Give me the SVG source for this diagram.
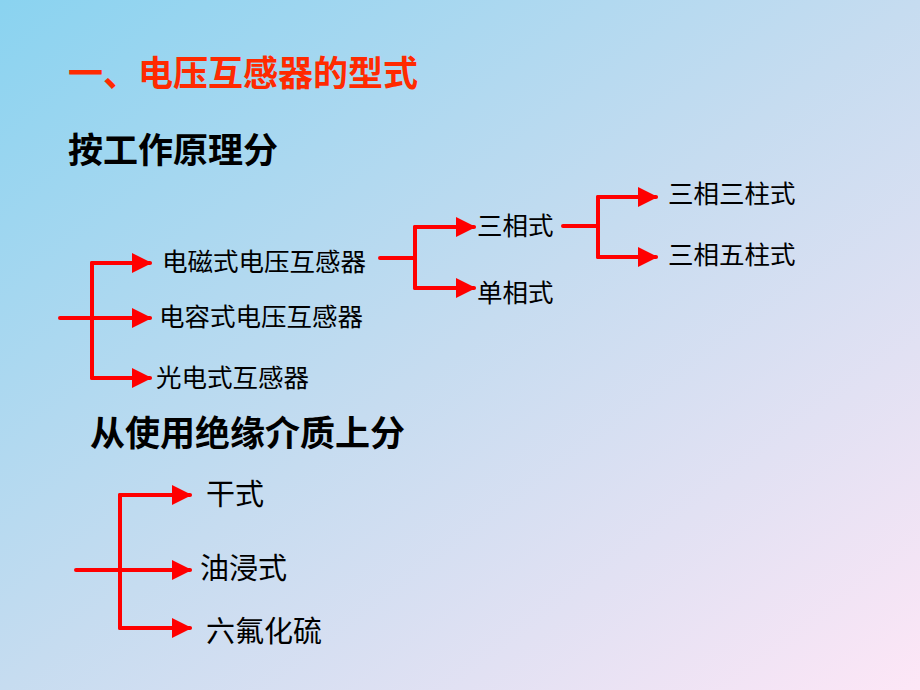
<svg xmlns="http://www.w3.org/2000/svg" width="920" height="690" viewBox="0 0 920 690">
<defs>
<linearGradient id="bg" x1="0" y1="0" x2="1" y2="1">
<stop offset="0" stop-color="#8ad3f0"/>
<stop offset="0.5" stop-color="#c6dcf0"/>
<stop offset="1" stop-color="#fde6f6"/>
</linearGradient>
<marker id="ah" viewBox="0 0 10 10" refX="9" refY="5" markerWidth="5.5" markerHeight="5" markerUnits="strokeWidth" orient="auto">
<path d="M0,0 L10,5 L0,10 Z" fill="#ff0000"/>
</marker>
<style>
.c{fill:none;stroke:#ff0000;stroke-width:4;stroke-linecap:round;stroke-linejoin:miter}
.a{marker-end:url(#ah)}
.t{font-family:"Liberation Sans","Noto Sans CJK SC",sans-serif;font-size:25.5px;fill:#000}
.b{font-size:29px}
.h{font-family:"Liberation Sans","Noto Sans CJK SC",sans-serif;font-size:35px;font-weight:bold}
</style>
</defs>
<rect width="920" height="690" fill="url(#bg)"/>
<text class="h" x="68" y="86" fill="#ff2a00">一、电压互感器的型式</text>
<text class="h" x="68" y="163" fill="#000">按工作原理分</text>
<text class="h" x="90" y="446" fill="#000">从使用绝缘介质上分</text>
<g id="connectors">
<path class="c" d="M60,318 H92"/>
<path class="c" d="M92,263 V378"/>
<path class="c a" d="M92,263 H150"/>
<path class="c a" d="M92,318 H150"/>
<path class="c a" d="M92,378 H150"/>
<path class="c" d="M380,258 H415 M415,227 V288"/>
<path class="c a" d="M415,227 H474"/>
<path class="c a" d="M415,288 H474"/>
<path class="c" d="M563,226 H598 M598,197 V257"/>
<path class="c a" d="M598,197 H656"/>
<path class="c a" d="M598,257 H656"/>
<path class="c" d="M76,570 H120 M120,495 V628"/>
<path class="c a" d="M120,495 H190"/>
<path class="c a" d="M120,570 H190"/>
<path class="c a" d="M120,628 H190"/>
</g>
<g id="n1"><text class="t" x="162" y="271">电磁式电压互感器</text></g>
<g id="n2"><text class="t" x="159" y="326">电容式电压互感器</text></g>
<g id="n3"><text class="t" x="156" y="387">光电式互感器</text></g>
<g id="n4"><text class="t" x="477" y="235">三相式</text></g>
<g id="n5"><text class="t" x="477" y="302">单相式</text></g>
<g id="n6"><text class="t" x="668" y="203">三相三柱式</text></g>
<g id="n7"><text class="t" x="668" y="264">三相五柱式</text></g>
<g id="n8"><text class="t b" x="206" y="505">干式</text></g>
<g id="n9"><text class="t b" x="200" y="579">油浸式</text></g>
<g id="n10"><text class="t b" x="206" y="642">六氟化硫</text></g>
</svg>
